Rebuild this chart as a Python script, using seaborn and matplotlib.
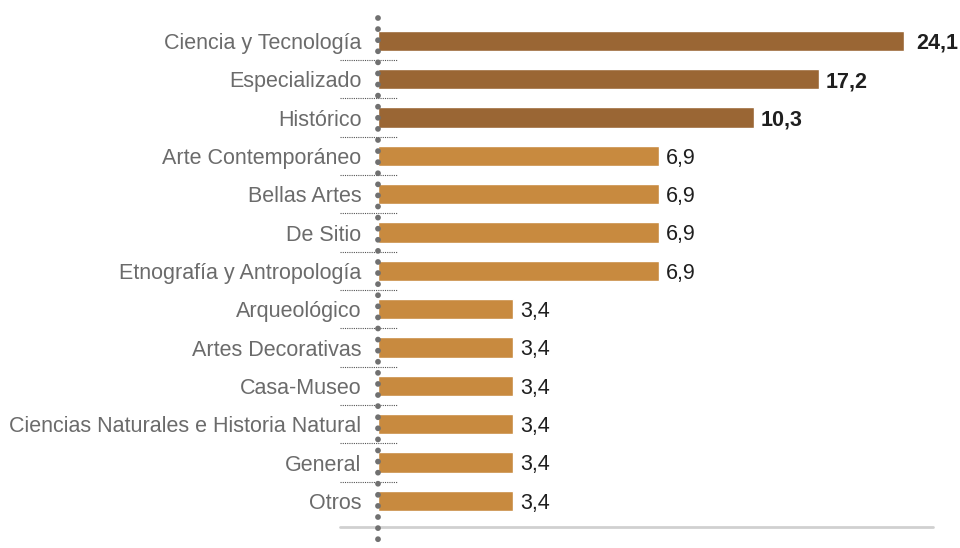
import matplotlib.pyplot as plt
import seaborn as sns
import pandas as pd

sns.set_theme(style="white")
plt.rcParams['font.family'] = ['Liberation Sans', 'DejaVu Sans']

# Data
categories = ['Ciencia y Tecnología', 'Especializado', 'Histórico', 'Arte Contemporáneo',
              'Bellas Artes', 'De Sitio', 'Etnografía y Antropología', 'Arqueológico',
              'Artes Decorativas', 'Casa-Museo', 'Ciencias Naturales e Historia Natural',
              'General', 'Otros']
values = [24.1, 17.2, 10.3, 6.9, 6.9, 6.9, 6.9, 3.4, 3.4, 3.4, 3.4, 3.4, 3.4]
# drawn bar lengths as they appear in the picture (the original scale is not linear)
bar_lengths = [12.92, 10.83, 9.23, 6.9, 6.9, 6.9, 6.9, 3.32, 3.32, 3.32, 3.32, 3.32, 3.32]
highlight = [True, True, True] + [False] * 10

DARK = '#9A6634'
LIGHT = '#C88A3F'
colors = [DARK if h else LIGHT for h in highlight]

df = pd.DataFrame({'cat': categories, 'len': bar_lengths})

fig = plt.figure(figsize=(9.6, 5.48), dpi=100)
# axes: zero at x=378 px, right end at 933 px, top at 17 px, bottom at figure edge
ax = fig.add_axes([378 / 960, 0, (933 - 378) / 960, (548 - 17) / 548])

sns.barplot(data=df, x='len', y='cat', hue='cat', palette=colors, legend=False,
            width=0.53, ax=ax, saturation=1)

xmax = 555 / 40.72
ax.set_xlim(0, xmax)
ax.set_ylim(13.23, -0.626)

for i, (v, L, h) in enumerate(zip(values, bar_lengths, highlight)):
    gap = 0.3 if i == 0 else 0.17
    ax.text(L + gap, i + 0.06, f'{v:.1f}'.replace('.', ','), va='center', ha='left',
            fontsize=15.5, color='#1f1f1f', fontweight='bold' if h else 'normal')

# separators between categories
left = -38 / 40.72
right_sep = 19 / 40.72
for i in range(len(categories) - 1):
    ax.plot([left, right_sep], [i + 0.5, i + 0.5], color='#555555', lw=0.8,
            linestyle=(0, (1, 1)), clip_on=False)

# bottom baseline
ax.plot([left, xmax], [12.68, 12.68], color='#d0d0d0', lw=2, clip_on=False)

# dotted vertical axis
ax.plot([0, 0], [-0.6, 13.5], color='#707070', lw=4.2, linestyle=(0, (0.001, 1.9)),
        dash_capstyle='round', zorder=5, clip_on=False)

ax.set_xlabel('')
ax.set_ylabel('')
ax.set_xticks([])
ax.tick_params(axis='y', length=0, pad=12, labelsize=15.5, labelcolor='#6b6b6b')
for s in ax.spines.values():
    s.set_visible(False)

plt.savefig('out.png', dpi=100)
